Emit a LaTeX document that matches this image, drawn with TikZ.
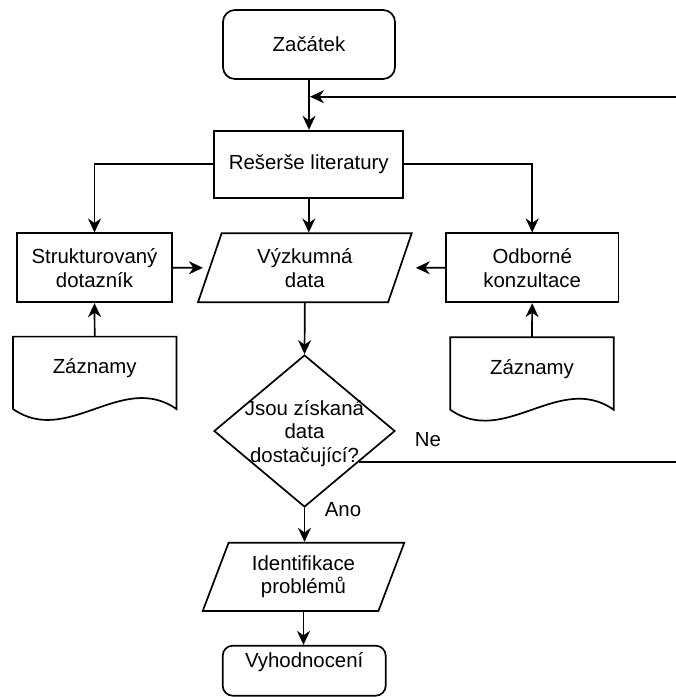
\documentclass[tikz,border=0pt]{standalone}
\usepackage{fontspec}
\setmainfont{Liberation Sans}
\usetikzlibrary{shapes.geometric, arrows.meta, calc}

\begin{document}
\begin{tikzpicture}[x=1pt, y=-1pt,
  every node/.style={font=\fontsize{20.4}{23.6}\selectfont, align=center, inner sep=0pt},
  stroke/.style={line width=1.7pt},
  flow/.style={stroke, -{Stealth[length=14pt, width=13pt, inset=4.5pt]}},
  proc/.style={draw, stroke, rectangle},
  term/.style={draw, stroke, rectangle, rounded corners=12pt},
  io/.style={draw, stroke, trapezium, trapezium left angle=58.7,
    trapezium right angle=121.3, trapezium stretches body},
  decision/.style={draw, stroke, diamond},
  docbody/.style={rectangle, minimum width=163pt, minimum height=63pt}
]
\useasboundingbox (0,0) rectangle (676,697);
\clip (0,0) rectangle (676,697);

% process steps
\node[term, minimum width=172pt, minimum height=69pt] (zac) at (309,44.5) {Začátek};
\node[proc, minimum width=189pt, minimum height=67.3pt] (res) at (308.8,164.3) {Rešerše literatury};
\node[proc, minimum width=155.6pt, minimum height=69pt] (str) at (94.5,267.8) {Strukturovaný\\dotazník};
\node[io, minimum width=213.7pt, minimum height=69pt] (vyz) at (304.85,267.8) {Výzkumná\\data};
\node[proc, minimum width=172.3pt, minimum height=69pt] (odb) at (532.2,267.8) {Odborné\\konzultace};
\node[decision, minimum width=181pt, minimum height=152pt,
  label={[yshift=-2.5pt]center:Jsou získaná\\data\\dostačující?}] (dec) at (304.5,431) {};
\node[io, minimum width=201.6pt, minimum height=68.3pt] (idn) at (303.5,576.9) {Identifikace\\problémů};
\node[term, rounded corners=10pt, minimum width=163pt, minimum height=50pt] (vyh) at (304.2,670.7) {};
\node (vyht) at (304.2,662) {Vyhodnocení};

% document shapes with wavy bottom
\node[docbody] (zl) at (94.7,368.3) {Záznamy};
\node[docbody] (zr) at (532,369) {Záznamy};
\foreach \d in {zl,zr}{
  \draw[stroke] ($(\d.south west)+(0,9)$) -- (\d.north west) -- (\d.north east)
    -- ($(\d.south east)+(0,9)$)
    .. controls ($(\d.south east)+(-54.3,-29)$) and ($(\d.south west)+(54.3,47)$)
    .. ($(\d.south west)+(0,9)$) -- cycle;
}

% connectors
\draw[flow] (zac.south) -- (zac.south |- res.north);
\draw[flow] (res.west) -| (str.north);
\draw[flow] (res.east) -| (odb.north);
\draw[flow] (res.south) -- (res.south |- vyz.north);
\draw[flow, shorten >=6pt] (str.east) -- (vyz.west);
\draw[flow, shorten >=15pt] (odb.west) -- (vyz.east);
\draw[flow] (zl.north) -- (str.south);
\draw[flow] (zr.north) -- (odb.south);
\draw[flow] (vyz.south) -- (dec.north);
\draw[flow] (dec.south) -- (dec.south |- idn.north);
\draw[flow] (idn.south) -- (idn.south |- vyh.north);

% loop back when the data are not sufficient
\coordinate (neout) at ($(dec.east)!0.4!(dec.south)$);
\coordinate (rc1) at (690,461.7);
\coordinate (rc2) at (690,96.7);
\coordinate (join) at (310,96.7);
\draw[flow] (neout) -- (neout -| rc1) -- (rc2) -- (join);

\node (ne) at (428,440) {Ne};
\node (ano) at (343,510) {Ano};
\end{tikzpicture}
\end{document}
